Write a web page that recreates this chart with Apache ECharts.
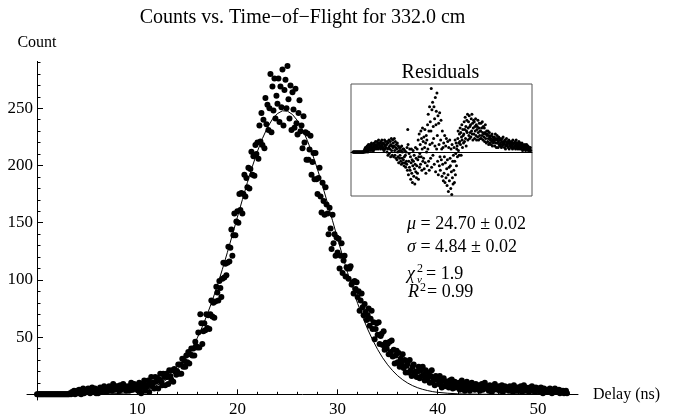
<!DOCTYPE html>
<html>
<head>
<meta charset="utf-8">
<title>Counts vs. Time-of-Flight</title>
<script src="https://cdn.jsdelivr.net/npm/echarts@6/dist/echarts.min.js"></script>
<style>
  html, body { margin: 0; padding: 0; background: #fff; }
  #chart { width: 673px; height: 415px; }
</style>
</head>
<body>
<div id="chart"></div>
<script>
// TDC histogram, 0.1 ns bins (delay in ns)
const delay = [
  0, 0.1, 0.2, 0.3, 0.4, 0.5, 0.6, 0.7, 0.8, 0.9,
  1, 1.1, 1.2, 1.3, 1.4, 1.5, 1.6, 1.7, 1.8, 1.9,
  2, 2.1, 2.2, 2.3, 2.4, 2.5, 2.6, 2.7, 2.8, 2.9,
  3, 3.1, 3.2, 3.3, 3.4, 3.5, 3.6, 3.7, 3.8, 3.9,
  4, 4.1, 4.2, 4.3, 4.4, 4.5, 4.6, 4.7, 4.8, 4.9,
  5, 5.1, 5.2, 5.3, 5.4, 5.5, 5.6, 5.7, 5.8, 5.9,
  6, 6.1, 6.2, 6.3, 6.4, 6.5, 6.6, 6.7, 6.8, 6.9,
  7, 7.1, 7.2, 7.3, 7.4, 7.5, 7.6, 7.7, 7.8, 7.9,
  8, 8.1, 8.2, 8.3, 8.4, 8.5, 8.6, 8.7, 8.8, 8.9,
  9, 9.1, 9.2, 9.3, 9.4, 9.5, 9.6, 9.7, 9.8, 9.9,
  10, 10.1, 10.2, 10.3, 10.4, 10.5, 10.6, 10.7, 10.8, 10.9,
  11, 11.1, 11.2, 11.3, 11.4, 11.5, 11.6, 11.7, 11.8, 11.9,
  12, 12.1, 12.2, 12.3, 12.4, 12.5, 12.6, 12.7, 12.8, 12.9,
  13, 13.1, 13.2, 13.3, 13.4, 13.5, 13.6, 13.7, 13.8, 13.9,
  14, 14.1, 14.2, 14.3, 14.4, 14.5, 14.6, 14.7, 14.8, 14.9,
  15, 15.1, 15.2, 15.3, 15.4, 15.5, 15.6, 15.7, 15.8, 15.9,
  16, 16.1, 16.2, 16.3, 16.4, 16.5, 16.6, 16.7, 16.8, 16.9,
  17, 17.1, 17.2, 17.3, 17.4, 17.5, 17.6, 17.7, 17.8, 17.9,
  18, 18.1, 18.2, 18.3, 18.4, 18.5, 18.6, 18.7, 18.8, 18.9,
  19, 19.1, 19.2, 19.3, 19.4, 19.5, 19.6, 19.7, 19.8, 19.9,
  20, 20.1, 20.2, 20.3, 20.4, 20.5, 20.6, 20.7, 20.8, 20.9,
  21, 21.1, 21.2, 21.3, 21.4, 21.5, 21.6, 21.7, 21.8, 21.9,
  22, 22.1, 22.2, 22.3, 22.4, 22.5, 22.6, 22.7, 22.8, 22.9,
  23, 23.1, 23.2, 23.3, 23.4, 23.5, 23.6, 23.7, 23.8, 23.9,
  24, 24.1, 24.2, 24.3, 24.4, 24.5, 24.6, 24.7, 24.8, 24.9,
  25, 25.1, 25.2, 25.3, 25.4, 25.5, 25.6, 25.7, 25.8, 25.9,
  26, 26.1, 26.2, 26.3, 26.4, 26.5, 26.6, 26.7, 26.8, 26.9,
  27, 27.1, 27.2, 27.3, 27.4, 27.5, 27.6, 27.7, 27.8, 27.9,
  28, 28.1, 28.2, 28.3, 28.4, 28.5, 28.6, 28.7, 28.8, 28.9,
  29, 29.1, 29.2, 29.3, 29.4, 29.5, 29.6, 29.7, 29.8, 29.9,
  30, 30.1, 30.2, 30.3, 30.4, 30.5, 30.6, 30.7, 30.8, 30.9,
  31, 31.1, 31.2, 31.3, 31.4, 31.5, 31.6, 31.7, 31.8, 31.9,
  32, 32.1, 32.2, 32.3, 32.4, 32.5, 32.6, 32.7, 32.8, 32.9,
  33, 33.1, 33.2, 33.3, 33.4, 33.5, 33.6, 33.7, 33.8, 33.9,
  34, 34.1, 34.2, 34.3, 34.4, 34.5, 34.6, 34.7, 34.8, 34.9,
  35, 35.1, 35.2, 35.3, 35.4, 35.5, 35.6, 35.7, 35.8, 35.9,
  36, 36.1, 36.2, 36.3, 36.4, 36.5, 36.6, 36.7, 36.8, 36.9,
  37, 37.1, 37.2, 37.3, 37.4, 37.5, 37.6, 37.7, 37.8, 37.9,
  38, 38.1, 38.2, 38.3, 38.4, 38.5, 38.6, 38.7, 38.8, 38.9,
  39, 39.1, 39.2, 39.3, 39.4, 39.5, 39.6, 39.7, 39.8, 39.9,
  40, 40.1, 40.2, 40.3, 40.4, 40.5, 40.6, 40.7, 40.8, 40.9,
  41, 41.1, 41.2, 41.3, 41.4, 41.5, 41.6, 41.7, 41.8, 41.9,
  42, 42.1, 42.2, 42.3, 42.4, 42.5, 42.6, 42.7, 42.8, 42.9,
  43, 43.1, 43.2, 43.3, 43.4, 43.5, 43.6, 43.7, 43.8, 43.9,
  44, 44.1, 44.2, 44.3, 44.4, 44.5, 44.6, 44.7, 44.8, 44.9,
  45, 45.1, 45.2, 45.3, 45.4, 45.5, 45.6, 45.7, 45.8, 45.9,
  46, 46.1, 46.2, 46.3, 46.4, 46.5, 46.6, 46.7, 46.8, 46.9,
  47, 47.1, 47.2, 47.3, 47.4, 47.5, 47.6, 47.7, 47.8, 47.9,
  48, 48.1, 48.2, 48.3, 48.4, 48.5, 48.6, 48.7, 48.8, 48.9,
  49, 49.1, 49.2, 49.3, 49.4, 49.5, 49.6, 49.7, 49.8, 49.9,
  50, 50.1, 50.2, 50.3, 50.4, 50.5, 50.6, 50.7, 50.8, 50.9,
  51, 51.1, 51.2, 51.3, 51.4, 51.5, 51.6, 51.7, 51.8, 51.9,
  52, 52.1, 52.2, 52.3, 52.4, 52.5, 52.6, 52.7, 52.8, 52.9
];
const count = [
  0, 0, 0, 0, 0, 0, 0, 0, 0, 0,
  0, 0, 0, 0, 0, 0, 0, 0, 0, 0,
  0, 0, 0, 0, 0, 0, 0, 0, 0, 0,
  0, 0, 0, 1, 0, 2, 1, 3, 0, 2,
  3, 1, 4, 2, 0, 3, 5, 1, 2, 4,
  2, 5, 3, 1, 4, 6, 2, 3, 5, 1,
  3, 1, 4, 6, 2, 5, 3, 7, 4, 2,
  5, 3, 7, 4, 6, 3, 9, 6, 4, 7,
  5, 7, 3, 8, 4, 6, 9, 5, 7, 3,
  4, 7, 3, 7, 10, 4, 6, 9, 5, 7,
  8, 3, 10, 5, 1, 9, 7, 12, 3, 8,
  7, 12, 2, 10, 15, 7, 10, 5, 15, 11,
  14, 5, 13, 18, 11, 8, 18, 15, 8, 18,
  15, 9, 21, 16, 13, 21, 11, 22, 21, 17,
  20, 26, 18, 26, 18, 31, 24, 29, 24, 34,
  28, 37, 27, 35, 40, 34, 40, 34, 46, 42,
  41, 54, 41, 70, 62, 44, 55, 62, 56, 70,
  58, 69, 57, 70, 82, 68, 80, 67, 81, 94,
  89, 82, 99, 93, 85, 101, 115, 102, 114, 104,
  115, 129, 116, 128, 144, 121, 139, 158, 139, 151,
  160, 150, 175, 161, 176, 158, 175, 192, 173, 189,
  181, 198, 180, 197, 212, 192, 208, 191, 218, 210,
  220, 206, 235, 221, 246, 218, 240, 215, 259, 236,
  253, 231, 250, 280, 229, 269, 248, 276, 241, 261,
  254, 276, 238, 269, 251, 284, 235, 266, 275, 250,
  287, 258, 241, 270, 231, 264, 249, 233, 267, 237,
  227, 246, 257, 230, 235, 215, 243, 220, 229, 205,
  228, 205, 214, 226, 192, 203, 211, 188, 211, 188,
  175, 189, 198, 173, 159, 185, 169, 157, 181, 166,
  158, 140, 163, 145, 127, 157, 132, 140, 121, 137,
  124, 136, 110, 121, 132, 106, 117, 121, 103, 111,
  110, 101, 110, 112, 96, 98, 88, 99, 92, 98,
  85, 90, 73, 82, 88, 76, 69, 79, 72, 65,
  69, 75, 60, 66, 73, 57, 63, 48, 57, 62,
  52, 63, 44, 51, 53, 43, 55, 39, 45, 40,
  44, 35, 46, 37, 47, 33, 39, 27, 34, 38,
  28, 36, 24, 31, 27, 35, 23, 30, 19, 25,
  27, 19, 30, 21, 16, 24, 26, 18, 20, 15,
  20, 24, 14, 21, 16, 24, 17, 12, 21, 15,
  13, 19, 10, 16, 21, 11, 14, 8, 16, 13,
  14, 9, 16, 10, 6, 12, 14, 7, 11, 9,
  10, 6, 12, 8, 13, 5, 9, 11, 6, 9,
  7, 10, 4, 8, 12, 6, 9, 3, 8, 11,
  6, 9, 3, 7, 10, 5, 8, 4, 9, 6,
  5, 8, 3, 7, 9, 4, 6, 10, 5, 7,
  6, 3, 8, 5, 2, 7, 4, 9, 5, 6,
  4, 7, 3, 6, 8, 2, 5, 7, 4, 6,
  5, 3, 7, 4, 6, 2, 8, 5, 3, 6,
  3, 6, 4, 7, 2, 5, 8, 3, 6, 4,
  5, 2, 6, 4, 7, 3, 5, 2, 6, 4,
  3, 5, 2, 6, 4, 1, 5, 3, 4, 2,
  4, 2, 5, 3, 1, 4, 2, 5, 3, 2,
  2, 4, 1, 3, 2, 3, 1, 2, 3, 1
];
// data minus fit, same bins
const residual = [
  0, 0, 0, 0, 0, 0, 0, 0, 0, 0,
  0, 0, 0, 0, 0, 0, 0, 0, 0, 0,
  0, 0, 0, 0, 0, 0, 0, 0, 0, 0,
  0, 0, 0, 1, 0, 2, 1, 3, 0, 2,
  3, 1, 4, 2, 0, 3, 5, 1, 2, 4,
  2, 5, 3, 1, 4, 6, 2, 3, 5, 1,
  3, 1, 4, 6, 2, 5, 3, 7, 4, 2,
  5, 3, 7, 4, 6, 2, 8, 5, 3, 6,
  4, 6, 2, 7, 3, 5, 8, 4, 6, 2,
  3, 6, 1, 5, 8, 2, 4, 7, 3, 5,
  5, 0, 7, 2, -2, 6, 3, 8, -1, 4,
  2, 7, -3, 5, 9, 1, 4, -2, 8, 3,
  6, -3, 4, 9, 1, -2, 7, 3, -4, 5,
  2, -5, 6, 0, -3, 4, -7, 3, 1, -4,
  -2, 3, -6, 1, -8, 4, -4, 0, -7, 2,
  -5, 2, -9, -3, 1, -7, -2, -10, 0, -6,
  -8, 3, -12, 15, 5, -15, -6, -1, -10, 2,
  -12, -3, -18, -7, 2, -14, -5, -20, -9, 1,
  -6, -16, -2, -11, -21, -8, 3, -13, -4, -17,
  -9, 2, -14, -5, 8, -18, -3, 12, -10, -1,
  5, -8, 14, -3, 9, -12, 2, 16, -6, 7,
  -4, 10, -11, 3, 15, -7, 6, -14, 11, 0,
  8, -9, 18, 2, 25, -6, 14, -12, 30, 5,
  20, -4, 14, 42, -10, 28, 6, 33, -2, 17,
  9, 30, -8, 22, 4, 36, -13, 18, 27, 2,
  39, 11, -6, 24, -15, 19, 5, -9, 26, -3,
  -12, 8, 21, -5, 2, -16, 14, -8, 3, -19,
  6, -14, -3, 11, -20, -7, 4, -17, 9, -11,
  -22, -5, 7, -15, -26, 3, -10, -19, 8, -4,
  -9, -24, 2, -13, -28, 5, -17, -6, -21, -2,
  -12, 3, -20, -6, 8, -15, -1, 6, -9, 2,
  4, -3, 9, 14, 1, 6, -2, 12, 7, 16,
  5, 13, -2, 10, 18, 8, 3, 15, 11, 6,
  12, 20, 7, 15, 23, 9, 17, 4, 14, 21,
  13, 25, 8, 16, 20, 11, 24, 9, 17, 13,
  18, 10, 22, 14, 25, 12, 19, 8, 16, 21,
  12, 20, 9, 17, 14, 22, 11, 18, 8, 15,
  17, 10, 21, 13, 8, 16, 19, 11, 14, 9,
  14, 19, 9, 16, 11, 20, 13, 8, 17, 12,
  10, 16, 7, 13, 18, 9, 12, 6, 14, 11,
  12, 7, 14, 9, 5, 11, 13, 6, 10, 8,
  9, 5, 11, 7, 12, 4, 8, 10, 6, 9,
  7, 10, 4, 8, 12, 6, 9, 3, 8, 11,
  6, 9, 3, 7, 10, 5, 8, 4, 9, 6,
  5, 8, 3, 7, 9, 4, 6, 10, 5, 7,
  6, 3, 8, 5, 2, 7, 4, 9, 5, 6,
  4, 7, 3, 6, 8, 2, 5, 7, 4, 6,
  5, 3, 7, 4, 6, 2, 8, 5, 3, 6,
  3, 6, 4, 7, 2, 5, 8, 3, 6, 4,
  5, 2, 6, 4, 7, 3, 5, 2, 6, 4,
  3, 5, 2, 6, 4, 1, 5, 3, 4, 2,
  4, 2, 5, 3, 1, 4, 2, 5, 3, 2,
  2, 4, 1, 3, 2, 3, 1, 2, 3, 1
];
// fitted gaussian, mu = 24.70, sigma = 4.84
const fitDelay = [
  0, 2, 4, 5, 6, 7, 8, 9, 10, 10.5, 11, 11.5, 12, 12.5, 13, 13.5, 14, 14.5,
  15, 15.5, 16, 16.5, 17, 17.5, 18, 18.5, 19, 19.5, 20, 20.5, 21, 21.5,
  22, 22.5, 23, 23.5, 24, 24.5, 25, 25.5, 26, 26.5, 27, 27.5, 28, 28.5,
  29, 29.5, 30, 30.5, 31, 31.5, 32, 32.5, 33, 33.5, 34, 34.5, 35, 35.5,
  36, 36.5, 37, 37.5, 38, 38.5, 39, 39.5, 40, 41, 42, 43, 44, 46, 53
];
const fitCount = [
  0, 0, 0, 0.1, 0.1, 0.3, 0.6, 1.3, 2.5, 3.4, 4.5, 6.0, 7.9, 10.3, 13.3, 17.1, 21.5, 26.9,
  33.3, 40.7, 49.3, 59.0, 70.0, 82.0, 95.1, 109.2, 124.0, 139.3, 154.8, 170.2, 185.2, 199.3,
  212.3, 223.6, 233.2, 240.5, 245.4, 247.8, 247.5, 244.6, 239.2, 231.4, 221.5, 209.8, 196.6, 182.2,
  167.1, 151.7, 136.2, 121.0, 106.3, 92.4, 79.5, 67.7, 57.0, 47.5, 39.2, 31.9, 25.8, 20.6,
  16.2, 12.7, 9.8, 7.5, 5.7, 4.3, 3.2, 2.3, 1.7, 0.9, 0.4, 0.2, 0.1, 0, 0
];
const xMajorTicks = [10, 20, 30, 40, 50];
const xMinorTicks = [2, 4, 6, 8, 12, 14, 16, 18, 22, 24, 26, 28, 32, 34, 36, 38, 42, 44, 46, 48, 52];
const yMajorTicks = [50, 100, 150, 200, 250];
const yMinorTicks = [10, 20, 30, 40, 60, 70, 80, 90, 110, 120, 130, 140, 160, 170, 180, 190,
  210, 220, 230, 240, 260, 270, 280, 290];

const FONT = 'Liberation Serif';

const chart = echarts.init(document.getElementById('chart'));

const mainPoints = delay.map((t, i) => [t, count[i]]);
const residualPoints = delay.map((t, i) => [t, residual[i]]);
const fitPoints = fitDelay.map((t, i) => [t, fitCount[i]]);

function text(x, y, str, size, extra) {
  return {
    type: 'text', x: x, y: y, silent: true,
    style: Object.assign({
      text: str, fontFamily: FONT, fontSize: size, fill: '#000',
      align: 'left', verticalAlign: 'middle',
      textAlign: 'left', textVerticalAlign: 'middle'
    }, extra || {})
  };
}

const italic = { g: { fontStyle: 'italic', fontFamily: FONT, fontSize: 18 } };

// axes cross at (0, 0): the grid is padded (-1..54, -5..291) and the
// axis lines are pulled inward with a negative offset
const X_OFFSET = -5.7;
const Y_OFFSET = -10;

chart.setOption({
  animation: false,
  backgroundColor: '#fff',
  grid: [
    { left: 27, top: 61.4, width: 551, height: 338.6, containLabel: false, outerBoundsMode: 'none' },
    { left: 351, top: 84, width: 181, height: 112, show: true, containLabel: false, outerBoundsMode: 'none',
      borderColor: '#555', borderWidth: 1, backgroundColor: '#fff', z: 5 }
  ],
  xAxis: [
    {
      type: 'value', gridIndex: 0, position: 'bottom', offset: X_OFFSET, min: -1, max: 54,
      name: 'Delay (ns)', nameLocation: 'end', nameGap: 15,
      nameTextStyle: { fontFamily: FONT, fontSize: 16, color: '#000' },
      axisLine: { onZero: false, lineStyle: { color: '#000', width: 1 } },
      axisTick: { inside: true, length: 5, customValues: xMajorTicks, lineStyle: { color: '#000' } },
      axisLabel: { customValues: xMajorTicks, margin: 7, fontFamily: FONT, fontSize: 17, color: '#000' },
      splitLine: { show: false }
    },
    {
      type: 'value', gridIndex: 0, position: 'bottom', offset: X_OFFSET, min: -1, max: 54,
      axisLine: { show: false, onZero: false },
      axisTick: { inside: true, length: 2.5, customValues: xMinorTicks, lineStyle: { color: '#000' } },
      axisLabel: { show: false },
      splitLine: { show: false }
    },
    {
      type: 'value', gridIndex: 1, min: -0.6, max: 53.3,
      axisLine: { onZero: true, lineStyle: { color: '#000', width: 1 } },
      axisTick: { show: false }, axisLabel: { show: false }, splitLine: { show: false }, z: 6
    }
  ],
  yAxis: [
    {
      type: 'value', gridIndex: 0, position: 'left', offset: Y_OFFSET, min: -5, max: 291,
      name: 'Count', nameLocation: 'end', nameGap: 11,
      nameTextStyle: { fontFamily: FONT, fontSize: 16, color: '#000', align: 'center' },
      axisLine: { onZero: false, lineStyle: { color: '#000', width: 1 } },
      axisTick: { inside: true, length: 6, customValues: yMajorTicks, lineStyle: { color: '#000' } },
      axisLabel: { customValues: yMajorTicks, margin: 4, fontFamily: FONT, fontSize: 17, color: '#000' },
      splitLine: { show: false }
    },
    {
      type: 'value', gridIndex: 0, position: 'left', offset: Y_OFFSET, min: -5, max: 291,
      axisLine: { show: false, onZero: false },
      axisTick: { inside: true, length: 3.5, customValues: yMinorTicks, lineStyle: { color: '#000' } },
      axisLabel: { show: false },
      splitLine: { show: false }
    },
    {
      type: 'value', gridIndex: 1, min: -29, max: 45, show: false
    }
  ],
  series: [
    {
      name: 'fit', type: 'line', xAxisIndex: 0, yAxisIndex: 0,
      data: fitPoints, showSymbol: false, smooth: false,
      lineStyle: { color: '#000', width: 1 }, z: 2
    },
    {
      name: 'counts', type: 'scatter', xAxisIndex: 0, yAxisIndex: 0,
      data: mainPoints, symbolSize: 6,
      itemStyle: { color: '#000', opacity: 1 }, z: 3
    },
    {
      name: 'residuals', type: 'scatter', xAxisIndex: 2, yAxisIndex: 2,
      data: residualPoints, symbolSize: 3,
      itemStyle: { color: '#000', opacity: 1 }, z: 7
    }
  ],
  graphic: [
    text(302.5, 17.5, 'Counts vs. Time\u2212of\u2212Flight for 332.0 cm', 20, { align: 'center', textAlign: 'center' }),
    text(440.5, 73, 'Residuals', 20, { align: 'center', textAlign: 'center' }),
    text(407, 224.5, '{g|\u03bc} = 24.70 \u00b1 0.02', 18, { rich: italic }),
    text(407, 247.5, '{g|\u03c3} = 4.84 \u00b1 0.02', 18, { rich: italic }),
    text(407, 274.5, '\u03c7', 18, { fontStyle: 'italic' }),
    text(417, 268.5, '2', 12),
    text(417, 280.5, '\u03bd', 11, { fontStyle: 'italic' }),
    text(426, 274.5, '= 1.9', 18),
    text(408, 292, 'R', 18, { fontStyle: 'italic' }),
    text(420, 287.5, '2', 12),
    text(427, 292, '= 0.99', 18)
  ]
});
</script>
</body>
</html>
